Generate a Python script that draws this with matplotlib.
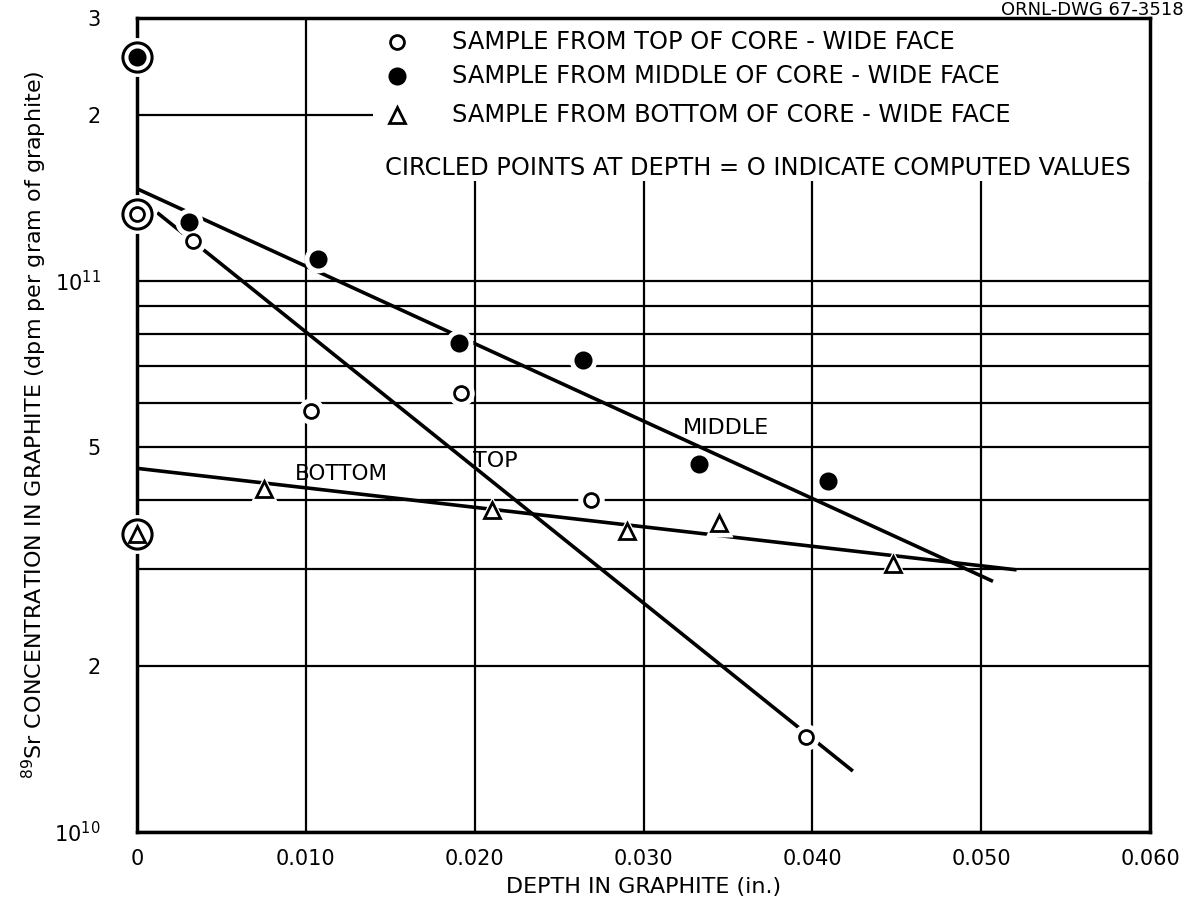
import matplotlib.pyplot as plt
from matplotlib.patches import Rectangle
from matplotlib.ticker import FixedLocator, FixedFormatter, NullFormatter

plt.rcParams['font.family'] = ['DejaVu Sans']
plt.rcParams['mathtext.default'] = 'regular'

# datos
top_x = [0.00333, 0.0103, 0.0192, 0.0269, 0.0396]
top_y = [1.18e11, 5.8e10, 6.26e10, 4.0e10, 1.49e10]

mid_x = [0.0031, 0.0107, 0.0191, 0.0264, 0.0333, 0.0409]
mid_y = [1.28e11, 1.094e11, 7.72e10, 7.19e10, 4.65e10, 4.33e10]

bot_x = [0.0075, 0.0210, 0.0290, 0.0345, 0.0448]
bot_y = [4.19e10, 3.84e10, 3.52e10, 3.63e10, 3.06e10]

# valores calculados en profundidad = 0
comp_x = [0.0, 0.0, 0.0]
comp_y = [1.32e11, 2.55e11, 3.48e10]   # top, middle, bottom

# rectas ajustadas (extremos)
top_line_x = [0.0012, 0.0424]
top_line_y = [1.33e11, 1.29e10]
mid_line_x = [0.0, 0.0507]
mid_line_y = [1.47e11, 2.85e10]
bot_line_x = [0.0, 0.0521]
bot_line_y = [4.57e10, 2.99e10]

x_ticks = [0, 0.01, 0.02, 0.03, 0.04, 0.05, 0.06]
x_labels = ['0', '0.010', '0.020', '0.030', '0.040', '0.050', '0.060']
y_ticks = [1e10, 2e10, 5e10, 1e11, 2e11, 3e11]
y_labels = ['$10^{10}$', '2', '5', '$10^{11}$', '2', '3']
y_minor = [3e10, 4e10, 6e10, 7e10, 8e10, 9e10]

fig = plt.figure(figsize=(11.9, 9.13), dpi=100)
ax = fig.add_axes([137 / 1190, 1 - 832 / 913, 1013 / 1190, 814 / 913])
ax.set_yscale('log')
ax.set_xlim(0, 0.06)
ax.set_ylim(1e10, 3e11)

ax.xaxis.set_major_locator(FixedLocator(x_ticks))
ax.xaxis.set_major_formatter(FixedFormatter(x_labels))
ax.yaxis.set_major_locator(FixedLocator(y_ticks))
ax.yaxis.set_major_formatter(FixedFormatter(y_labels))
ax.yaxis.set_minor_locator(FixedLocator(y_minor))
ax.yaxis.set_minor_formatter(NullFormatter())
ax.tick_params(which='both', length=0)
ax.tick_params(axis='x', labelsize=15, pad=12)
ax.tick_params(axis='y', labelsize=15, pad=26)

ax.set_axisbelow(True)
ax.grid(True, which='both', color='black', lw=1.6)
for s in ax.spines.values():
    s.set_linewidth(2.5)

# zona blanca de la leyenda
ax.add_patch(Rectangle((0.233, 0.8), 0.767, 0.2, transform=ax.transAxes,
                       facecolor='white', edgecolor='none', zorder=1))

lw = 2.6
for lx, ly in [(top_line_x, top_line_y), (mid_line_x, mid_line_y), (bot_line_x, bot_line_y)]:
    ax.plot(lx, ly, color='black', lw=lw, zorder=2, solid_capstyle='butt')


def puntos(x, y, marker, fill, ms):
    ax.plot(x, y, ls='none', marker=marker, ms=ms + 9, mfc='white', mec='none',
            zorder=3, clip_on=False)
    ax.plot(x, y, ls='none', marker=marker, ms=ms, mfc=fill, mec='black',
            mew=2.0, zorder=4, clip_on=False)


puntos(top_x, top_y, 'o', 'white', 10)
puntos(mid_x, mid_y, 'o', 'black', 11)
puntos(bot_x, bot_y, '^', 'white', 11)

# puntos calculados dentro de un circulo
ax.plot(comp_x, comp_y, ls='none', marker='o', ms=28, mfc='white', mec='none',
        zorder=3, clip_on=False)
ax.plot(comp_x, comp_y, ls='none', marker='o', ms=21, mfc='white', mec='black',
        mew=2.2, zorder=4, clip_on=False)
ax.plot(comp_x[0], comp_y[0], marker='o', ms=10, mfc='white', mec='black', mew=2.0,
        zorder=5, clip_on=False)
ax.plot(comp_x[1], comp_y[1], marker='o', ms=11, mfc='black', mec='black', mew=2.0,
        zorder=5, clip_on=False)
ax.plot(comp_x[2], comp_y[2], marker='^', ms=11, mfc='white', mec='black', mew=2.0,
        zorder=5, clip_on=False)

# etiquetas de las rectas
ax.text(0.03235, 5.42e10, 'MIDDLE', fontsize=16, va='center', ha='left', zorder=6)
ax.text(0.0199, 4.72e10, 'TOP', fontsize=16, va='center', ha='left', zorder=6)
ax.text(0.00936, 4.47e10, 'BOTTOM', fontsize=15.5, va='center', ha='left', zorder=6)

# leyenda
rows = [0.9705, 0.9287, 0.8808]
textos = ['SAMPLE FROM TOP OF CORE - WIDE FACE',
          'SAMPLE FROM MIDDLE OF CORE - WIDE FACE',
          'SAMPLE FROM BOTTOM OF CORE - WIDE FACE']
marcas = [('o', 'white', 10), ('o', 'black', 11), ('^', 'white', 11)]
for yy, t, (m, f, ms) in zip(rows, textos, marcas):
    ax.plot([0.257], [yy], transform=ax.transAxes, marker=m, ms=ms, mfc=f,
            mec='black', mew=2.0, zorder=6, clip_on=False)
    ax.text(0.311, yy, t, transform=ax.transAxes, fontsize=17.4, va='center',
            ha='left', zorder=6)
ax.text(0.245, 0.8157, 'CIRCLED POINTS AT DEPTH = O INDICATE COMPUTED VALUES',
        transform=ax.transAxes, fontsize=17.4, va='center', ha='left', zorder=6)

fig.text(0.995, 1 - 1 / 913, 'ORNL-DWG 67-3518', fontsize=13, ha='right', va='top')

ax.set_xlabel('DEPTH IN GRAPHITE (in.)', fontsize=16, labelpad=6)
ax.set_ylabel('$^{89}$Sr CONCENTRATION IN GRAPHITE (dpm per gram of graphite)',
              fontsize=16, labelpad=4)

fig.savefig('out.png', dpi=100)
